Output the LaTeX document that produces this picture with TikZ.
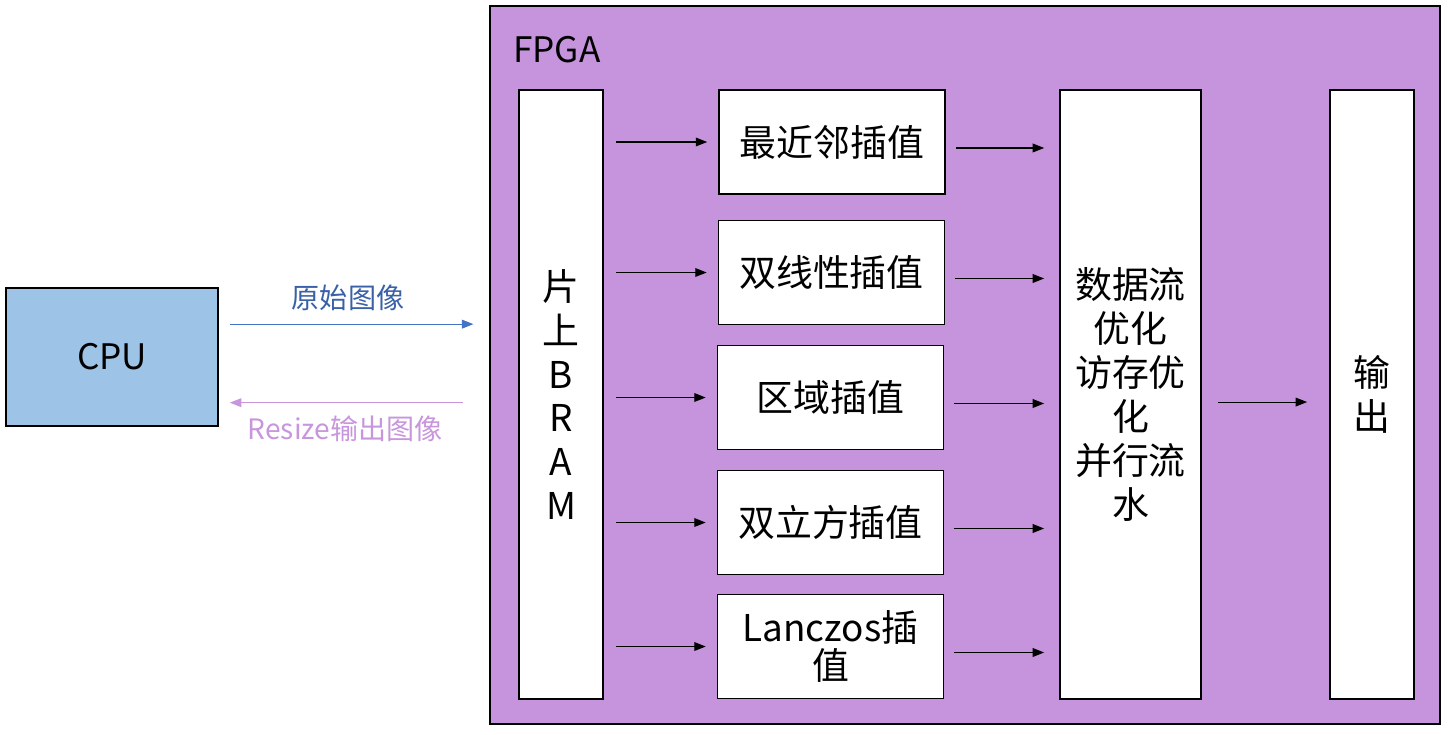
\documentclass[tikz,border=0pt]{standalone}
\usepackage{fontspec}
\setmainfont{Noto Sans CJK SC}
\usepackage{xcolor}
\usepackage{tikz}
\usetikzlibrary{arrows.meta, positioning, calc}
\definecolor{fpgaviolet}{HTML}{C693DD}
\definecolor{cpublue}{HTML}{9DC3E6}
\definecolor{sendblue}{HTML}{4472C4}
\definecolor{backlilac}{HTML}{C896DC}

\begin{document}
\begin{tikzpicture}[x=0.02cm, y=-0.02cm,
  box/.style={draw, line width=1.1pt, fill=white, align=center, inner sep=0pt,
              font=\fontsize{21}{25}\selectfont},
  tallbox/.style={box, minimum height=12.18cm},
  algo/.style={box, minimum width=4.52cm, minimum height=2.08cm},
  arrow/.style={-{Triangle[length=6.5pt,width=5pt]}, line width=0.6pt},
  lbl/.style={font=\fontsize{16}{19}\selectfont}
]
  \useasboundingbox (0,0) rectangle (1450,734);

  % host side
  \node[box, fill=cpublue, font=\fontsize{20}{25}\selectfont, minimum width=4.24cm, minimum height=2.76cm] (cpu) at (112,357) {CPU};

  % FPGA frame
  \node[draw, line width=1.1pt, fill=fpgaviolet, minimum width=19cm, minimum height=14.36cm] (fpga) at (965,365) {};
  \node[anchor=west, font=\fontsize{20}{25}\selectfont, inner sep=0pt] (fpganame) at (513,50) {FPGA};

  \node[tallbox, minimum width=1.68cm] (bram) at (561,394.5) {片\\上\\B\\R\\A\\M};
  \node[tallbox, minimum width=2.82cm] (flow) at (1130.5,394.5) {数据流\\优化\\访存优\\化\\并行流\\水};
  \node[tallbox, minimum width=1.68cm] (out) at (1372,394.5) {输\\出};

  \node[algo] (nearest) at (832,142) {最近邻插值};
  \node[algo] (bilinear) at (831.5,272.5) {双线性插值};
  \node[algo] (area) at (830.5,397.5) {区域插值};
  \node[algo] (bicubic) at (830.5,522.5) {双立方插值};
  \node[algo, font=\fontsize{21}{22}\selectfont] (lanczos) at (830.5,646.5) {Lanczos插\\值};

  % image transfer
  \draw[arrow, sendblue, shorten <=6.2pt, shorten >=9pt] ([yshift=18.7pt]cpu.east) -- ([yshift=18.7pt]cpu.east -| fpga.west)
    node[midway, above=4pt, xshift=-3.4pt, lbl, text=sendblue!85!black] (rawlbl) {原始图像};
  \draw[arrow, backlilac, shorten <=14.7pt, shorten >=6.2pt] ([yshift=-26pt]cpu.east -| fpga.west) -- ([yshift=-26pt]cpu.east)
    node[midway, below=4pt, xshift=-5pt, lbl, text=backlilac] (reslbl) {Resize输出图像};

  % interpolation paths
  \foreach \alg in {nearest, bilinear, area, bicubic, lanczos} {
    \draw[arrow, shorten <=6.8pt, shorten >=6.2pt] (\alg.west -| bram.east) -- (\alg.west);
    \draw[arrow, shorten <=5.7pt, shorten >=8.5pt] ([yshift=-3.4pt]\alg.east) -- ([yshift=-3.4pt]\alg.east -| flow.west);
  }
  \draw[arrow, shorten <=9pt, shorten >=12.5pt] ([yshift=-4.3pt]flow.east) -- ([yshift=-4.3pt]flow.east -| out.west);
\end{tikzpicture}
\end{document}
